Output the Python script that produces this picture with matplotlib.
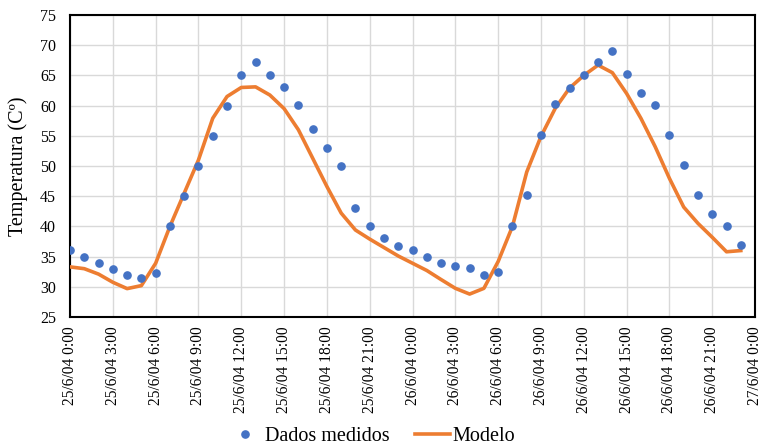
import matplotlib
matplotlib.use("Agg")
import matplotlib.pyplot as plt

plt.rcParams['font.family'] = ['Liberation Serif', 'DejaVu Serif']

hours = list(range(48))
measured = [36.1, 34.9, 33.9, 32.95, 31.9, 31.5, 32.3, 40.0, 45.0, 50.0,
            54.9, 60.0, 65.0, 67.2, 65.0, 63.1, 60.1, 56.1, 53.0, 50.0,
            43.1, 40.0, 38.1, 36.8, 36.1, 35.0, 33.9, 33.4, 33.1, 32.0,
            32.45, 40.0, 45.2, 55.1, 60.2, 62.9, 65.0, 67.2, 69.1, 65.2,
            62.1, 60.1, 55.1, 50.1, 45.2, 42.1, 40.0, 36.9]
model = [33.3, 33.0, 32.1, 30.75, 29.7, 30.2, 33.9, 40.0, 45.5, 51.0,
         57.9, 61.5, 63.0, 63.1, 61.75, 59.5, 56.0, 51.3, 46.6, 42.2,
         39.4, 37.9, 36.5, 35.1, 33.9, 32.7, 31.2, 29.75, 28.8, 29.75,
         34.2, 40.0, 49.0, 54.9, 59.55, 62.9, 65.0, 66.7, 65.45, 62.0,
         57.9, 53.2, 47.95, 43.2, 40.5, 38.2, 35.8, 36.0]
tick_hours = list(range(0, 49, 3))
tick_labels = ['25/6/04 0:00', '25/6/04 3:00', '25/6/04 6:00', '25/6/04 9:00',
               '25/6/04 12:00', '25/6/04 15:00', '25/6/04 18:00', '25/6/04 21:00',
               '26/6/04 0:00', '26/6/04 3:00', '26/6/04 6:00', '26/6/04 9:00',
               '26/6/04 12:00', '26/6/04 15:00', '26/6/04 18:00', '26/6/04 21:00',
               '27/6/04 0:00']
y_ticks = list(range(25, 80, 5))

fig = plt.figure(figsize=(7.62, 4.46), dpi=100)
ax = fig.add_axes([0.0919, 0.2892, 0.8990, 0.6772])

ax.plot(hours, model, color='#ED7D31', lw=2.6, label='Modelo', zorder=3)
ax.plot(hours, measured, 'o', color='#4472C4', ms=5.2, label='Dados medidos', zorder=4)

ax.set_xlim(0, 48)
ax.set_ylim(25, 75)
ax.set_xticks(tick_hours)
ax.set_xticklabels(tick_labels, rotation=90, fontsize=11.2)
ax.set_yticks(y_ticks)
ax.set_yticklabels([str(v) for v in y_ticks], fontsize=11.5)
ax.tick_params(axis='x', length=0, pad=7)
ax.tick_params(axis='y', length=0, pad=10)
ax.grid(True, color='#D9D9D9', lw=1.0)
ax.set_axisbelow(True)
for s in ax.spines.values():
    s.set_color('black')
    s.set_linewidth(1.5)
ax.set_ylabel('Temperatura (Cº)', fontsize=14.5)
ax.yaxis.set_label_coords(-0.061, 0.5)

h, l = ax.get_legend_handles_labels()
leg = fig.legend([h[1], h[0]], [l[1], l[0]], loc='center', bbox_to_anchor=(0.487, 0.022),
                 ncol=2, frameon=False, fontsize=14.5, handlelength=1.75,
                 columnspacing=1.25, handletextpad=0.1, borderpad=0)

fig.savefig('out.png', dpi=100)
